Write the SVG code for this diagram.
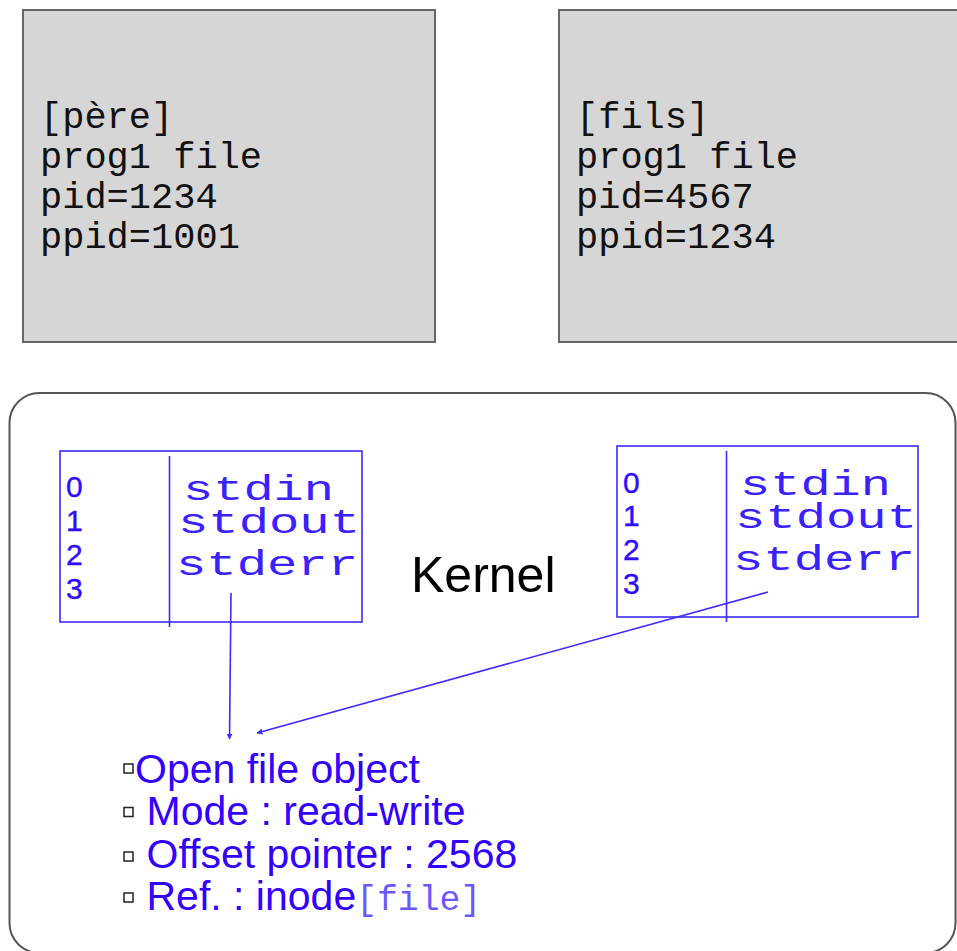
<svg xmlns="http://www.w3.org/2000/svg" width="957" height="951" viewBox="0 0 957 951">
  <style>
    .proc { fill: #d6d6d6; stroke: #666666; stroke-width: 2; }
    .proc-text { font-family: "Liberation Mono", "Courier New", monospace; font-size: 37px; fill: #111111; }
    .kernel { fill: #ffffff; stroke: #555555; stroke-width: 2; }
    .kernel-label { font-family: "Liberation Sans", Arial, sans-serif; font-size: 50px; fill: #000000; }
    .fd-box { fill: none; stroke: #3d2bff; stroke-width: 1.6; }
    .fd-num { font-family: "Liberation Sans", Arial, sans-serif; font-size: 30px; fill: #2f0dff; stroke: #2f0dff; stroke-width: 0.4; }
    .fd-name { font-family: "Liberation Mono", "Courier New", monospace; font-size: 35px; fill: #3a22ff; }
    .bullet { fill: #ffffff; stroke: #222222; stroke-width: 1.5; }
    .item { font-family: "Liberation Sans", Arial, sans-serif; font-size: 41px; fill: #3300ff; }
    .mono { font-family: "Liberation Mono", "Courier New", monospace; font-size: 35px; fill: #6a58ff; }
    .conn { stroke: #3d2bff; stroke-width: 1.6; fill: none; marker-end: url(#arrow); }
  </style>
  <defs>
    <marker id="arrow" viewBox="0 0 10 10" refX="9" refY="5" markerWidth="6" markerHeight="6" markerUnits="userSpaceOnUse" orient="auto">
      <path d="M0,0 L10,5 L0,10 z" fill="#3d2bff"/>
    </marker>
  </defs>

  <!-- parent process -->
  <g id="pere">
    <rect class="proc" x="23" y="10" width="412" height="332"/>
    <text class="proc-text" x="40" y="128">[père]</text>
    <text class="proc-text" x="40" y="168">prog1 file</text>
    <text class="proc-text" x="40" y="208">pid=1234</text>
    <text class="proc-text" x="40" y="248">ppid=1001</text>
  </g>

  <!-- child process -->
  <g id="fils">
    <rect class="proc" x="559" y="10" width="420" height="332"/>
    <text class="proc-text" x="576" y="128">[fils]</text>
    <text class="proc-text" x="576" y="168">prog1 file</text>
    <text class="proc-text" x="576" y="208">pid=4567</text>
    <text class="proc-text" x="576" y="248">ppid=1234</text>
  </g>

  <!-- kernel area -->
  <g id="kernel">
    <rect class="kernel" x="9.5" y="393" width="946" height="560" rx="30" ry="30"/>
    <text class="kernel-label" x="411" y="592">Kernel</text>
  </g>

  <!-- descriptor table of the parent -->
  <g id="fd-pere">
    <rect class="fd-box" x="60" y="451" width="302" height="171"/>
    <line class="fd-box" x1="169.5" y1="456" x2="169.5" y2="627"/>
    <text class="fd-num" x="66" y="497">0</text>
    <text class="fd-num" x="66" y="531">1</text>
    <text class="fd-num" x="66" y="565">2</text>
    <text class="fd-num" x="66" y="599">3</text>
    <text class="fd-name" x="183" y="500" textLength="151" lengthAdjust="spacingAndGlyphs">stdin</text>
    <text class="fd-name" x="178" y="533" textLength="182" lengthAdjust="spacingAndGlyphs">stdout</text>
    <text class="fd-name" x="176" y="575" textLength="182" lengthAdjust="spacingAndGlyphs">stderr</text>
  </g>

  <!-- descriptor table of the child -->
  <g id="fd-fils">
    <rect class="fd-box" x="617" y="446" width="301" height="171"/>
    <line class="fd-box" x1="726.5" y1="451" x2="726.5" y2="622"/>
    <text class="fd-num" x="623" y="493">0</text>
    <text class="fd-num" x="623" y="526">1</text>
    <text class="fd-num" x="623" y="560">2</text>
    <text class="fd-num" x="623" y="594">3</text>
    <text class="fd-name" x="740" y="495" textLength="151" lengthAdjust="spacingAndGlyphs">stdin</text>
    <text class="fd-name" x="735" y="528" textLength="182" lengthAdjust="spacingAndGlyphs">stdout</text>
    <text class="fd-name" x="733" y="570" textLength="182" lengthAdjust="spacingAndGlyphs">stderr</text>
  </g>

  <!-- shared open file object -->
  <g id="open-file">
    <rect class="bullet" x="124" y="764" width="9" height="9"/>
    <rect class="bullet" x="124" y="807.5" width="9" height="9"/>
    <rect class="bullet" x="124" y="852" width="9" height="9"/>
    <rect class="bullet" x="124" y="893" width="9" height="9"/>
    <text class="item" x="135" y="783">Open file object</text>
    <text class="item" x="146.5" y="825">Mode : read-write</text>
    <text class="item" x="146.5" y="868">Offset pointer : 2568</text>
    <text class="item" x="146.5" y="910">Ref. : inode<tspan class="mono" textLength="125" lengthAdjust="spacingAndGlyphs">[file]</tspan></text>
  </g>

  <!-- stderr entries pointing to the open file object -->
  <g id="connectors">
    <line class="conn" x1="231" y1="593" x2="229.5" y2="739"/>
    <line class="conn" x1="768" y1="592" x2="257" y2="733"/>
  </g>
</svg>
